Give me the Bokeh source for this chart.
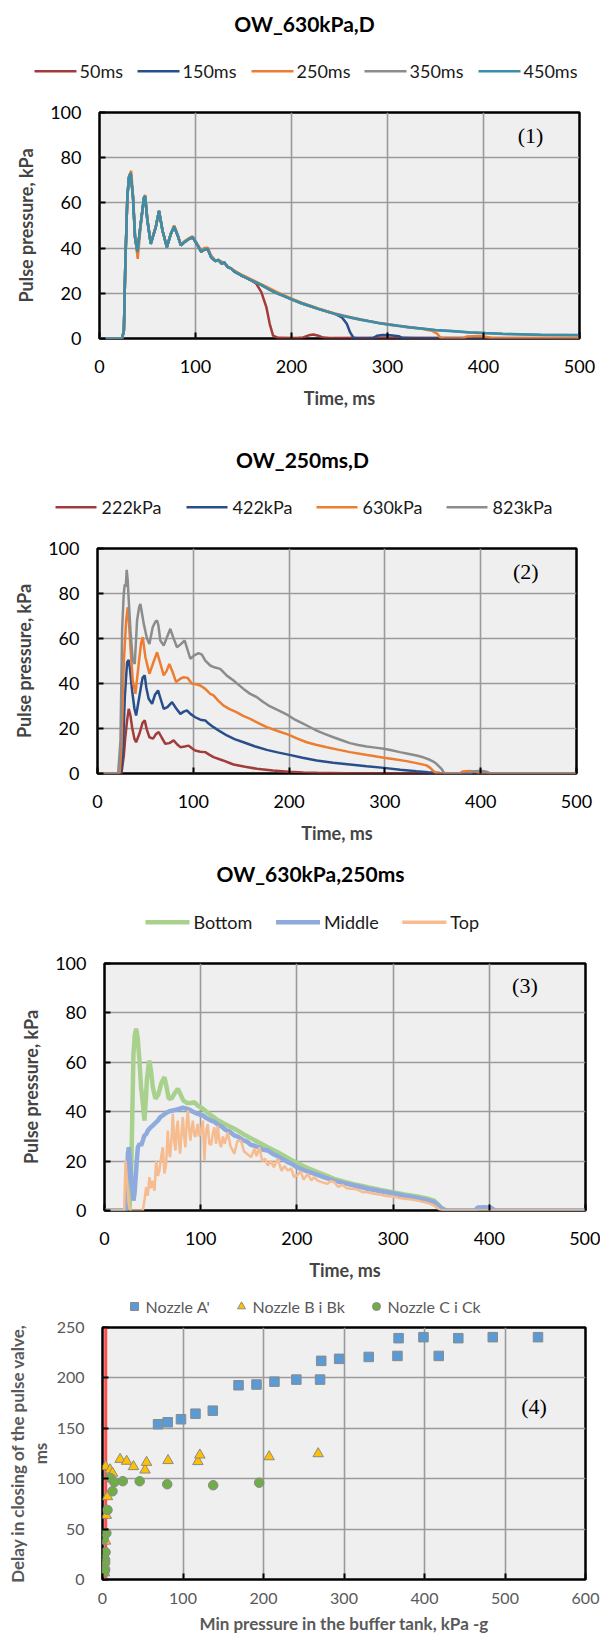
from bokeh.plotting import figure
from bokeh.models import Range1d, Label, Span, LinearAxis, FixedTicker
from bokeh.layouts import column
from bokeh.embed import file_html
from bokeh.resources import INLINE

# ---------------- data ----------------
time_ticks = [0, 100, 200, 300, 400, 500]
pressure_ticks = [0, 20, 40, 60, 80, 100]
buffer_ticks = [0, 100, 200, 300, 400, 500, 600]
delay_ticks = [0, 50, 100, 150, 200, 250]

# Panel 1 : OW_630kPa,D  (time ms, pulse pressure kPa)
p1_shared_start = [(0, 0), (23.5, 0), (25.4, 3.5), (26.9, 33.0), (29.0, 62.5), (30.7, 71.4), (32.5, 73.2),
                   (34.9, 62.5), (37.0, 44.8), (39.5, 38.2), (42.9, 50.7), (46.4, 62.5), (47.5, 63.0),
                   (49.9, 52.2), (53.4, 41.9), (58.6, 49.3), (62.0, 56.4), (65.6, 47.8), (70.2, 40.4),
                   (74.3, 46.3), (77.8, 49.6), (81.4, 45.6), (84.8, 41.2), (88.3, 42.6), (93.5, 44.1),
                   (97.0, 44.8), (102.3, 41.2), (105.8, 38.4), (109.2, 39.4), (112.8, 39.6), (116.2, 36.0),
                   (120.7, 34.2), (124.0, 34.8), (127.0, 33.2), (130.0, 33.6), (133.5, 31.6), (137.0, 31.0),
                   (140.6, 29.6), (145.0, 28.6), (149.0, 27.6), (153.0, 26.8), (158.1, 25.7)]
p1_450ms_tail = [(163, 24.8), (169, 23.6), (175.6, 22.0), (184, 20.2), (193, 18.6), (201.5, 17.1),
                 (210.5, 15.6), (219, 14.4), (228, 13.1), (236.5, 12.0), (245.3, 10.9), (254, 10.0),
                 (262.8, 9.2), (271.5, 8.4), (280.3, 7.7), (290.5, 6.9), (301.2, 6.2), (311.5, 5.6),
                 (322.2, 5.0), (336, 4.4), (350.1, 3.8), (367.5, 3.3), (385, 2.8), (402.5, 2.4),
                 (420, 2.1), (440, 1.9), (460, 1.7), (480, 1.6), (500, 1.5)]
p1_350ms_tail = [(163, 24.7), (169, 23.5), (175.6, 21.9), (184, 20.1), (193, 18.5), (201.5, 17.0),
                 (210.5, 15.5), (219, 14.3), (228, 13.0), (236.5, 11.9), (245.3, 10.8), (254, 9.9),
                 (262.8, 9.1), (271.5, 8.3), (280.3, 7.6), (290.5, 6.8), (301.2, 6.1), (311.5, 5.5),
                 (322.2, 4.9), (336, 4.3), (350.1, 3.7), (367.5, 3.2), (385, 2.7), (402.5, 2.3),
                 (420, 2.0), (440, 1.8), (460, 1.6), (480, 1.5), (500, 1.4)]
p1_150ms_tail = [(163, 24.8), (169, 23.6), (175.6, 22.0), (184, 20.2), (193, 18.6), (201.5, 17.1),
                 (210.5, 15.6), (219, 14.4), (228, 13.1), (236.5, 12.0), (245.3, 10.9), (252.4, 9.4),
                 (257.6, 6.5), (261, 2.8), (264.6, 0.3), (270, 0), (285, 0.2), (289, 1.2), (295, 1.5),
                 (303, 1.4), (311.7, 1.0), (316, 0.2), (330, 0.1), (500, 0.1)]
p1_50ms_tail = [(163.4, 24.2), (168.6, 20.5), (173.8, 13.9), (177.3, 6.5), (180.8, 1.3), (186, 0.3),
                (205, 0.2), (212, 0.5), (218, 1.4), (222.7, 1.8), (228, 1.2), (233, 0.4), (240, 0.2),
                (300, 0.3), (500, 0.2)]
p1_250ms = [(0, 0), (23.5, 0), (25.4, 3.5), (26.9, 34), (29, 63), (31, 72), (33, 74.2), (35, 63), (37.2, 45),
            (39.8, 35.2), (43, 50), (46.4, 62), (47.6, 63.5), (50, 52.5), (53.5, 42), (58.6, 49.5), (62, 56.5),
            (65.6, 48), (70.2, 40.6), (74.3, 46.5), (77.8, 50), (81.4, 46), (84.8, 41.5), (88.3, 43),
            (93.5, 44.5), (97, 45.2), (102.3, 41.5), (105.8, 39), (109.2, 40), (112.8, 40.2), (116.2, 36.8),
            (120.7, 34.5), (126.7, 34.2), (133.5, 32), (140.6, 30), (149, 28), (158.1, 26.2), (166.5, 24.4),
            (175.6, 22.5), (184, 20.7), (193, 19), (201.5, 17.4), (210.5, 15.9), (219, 14.6), (228, 13.3),
            (236.5, 12.2), (245.3, 11.1), (254, 10.2), (262.8, 9.3), (271.5, 8.5), (280.3, 7.8), (290.5, 7),
            (301.2, 6.3), (311.5, 5.7), (322.2, 5.1), (336, 4.3), (342, 3.8), (346.6, 3.4), (351.8, 2.1),
            (355.3, 0.3), (360, 0), (378, 0), (383, 0.9), (395, 1.1), (402, 0.8), (408, 0.2), (430, 0.1),
            (500, 0.1)]
p1_labels = ["50ms", "150ms", "250ms", "350ms", "450ms"]

# Panel 2 : OW_250ms,D
p2_222kPa = [(0, 0), (25, 0), (27.5, 8), (29, 16), (30.9, 23.6), (32.6, 28.7), (34.3, 26), (36.1, 20.6),
             (38.5, 15.5), (40.3, 13.9), (44, 18), (47, 22.5), (49.3, 23.6), (51.5, 19.5), (54.2, 16.1),
             (58, 15.5), (61, 17.5), (63.9, 18.4), (67, 16), (70.8, 13.2), (75, 13.5), (79.5, 14.7), (83, 13),
             (86.5, 11.7), (91, 12), (95.1, 12.4), (98.5, 11.2), (102, 10.2), (107.3, 9.7), (112.5, 9.5),
             (117, 8.3), (121.1, 7.3), (131, 5.8), (142, 4), (154, 3), (166.4, 2.1), (183, 1.3), (199.3, 0.8),
             (215, 0.5), (228.8, 0.3), (260, 0.1), (300, 0), (500, 0)]
p2_422kPa = [(0, 0), (24.5, 0), (26.5, 10), (28.5, 33.9), (30.9, 49.5), (32.6, 50.5), (34, 46), (36.1, 36.9),
             (38.5, 29), (40.3, 25.8), (44, 35), (47, 42.5), (49.3, 43.6), (51, 38), (53.4, 33.2), (57, 31),
             (60, 35), (63.2, 36.9), (66, 33), (69.1, 28.7), (73, 29.5), (77.8, 31.7), (82, 29), (86.5, 26.5),
             (90, 27.5), (93.4, 28), (97, 26.5), (102, 25), (107.3, 23.9), (112.5, 23.6), (116, 22.2),
             (121.1, 20.6), (128, 18.7), (135.1, 16.9), (143, 15.3), (152.4, 13.9), (164, 12.1), (176.7, 10.5),
             (188, 9.4), (199.3, 8.4), (214, 7), (228.8, 5.8), (246, 4.8), (263.5, 4), (281, 3.2), (299, 2.5),
             (316, 1.7), (333, 1), (345, 0.6), (357.3, 0.2), (365, 0), (500, 0)]
p2_630kPa = [(0, 0), (23, 0), (25, 12), (27.4, 48.7), (29.9, 68), (31.6, 73.9), (33, 66), (34.4, 56.1),
             (36.8, 41.3), (39.6, 35.4), (43, 48.7), (45.5, 58), (47.2, 60.6), (50, 51.7), (54.2, 44.3), (58, 49),
             (62.2, 53.9), (65.5, 49), (69.1, 43.6), (72, 45.5), (75, 48.7), (78.5, 45), (82, 40.6), (86, 42),
             (89.9, 42.8), (94, 42.5), (98.6, 39.9), (102, 39.8), (107.3, 39.1), (112.5, 37.6), (117.7, 35.4),
             (121.1, 34.7), (126, 32.4), (131.6, 30.2), (138, 28.6), (145.5, 27.2), (152, 25.6), (159.4, 24.3),
             (168, 22.4), (176.7, 20.6), (188, 18.9), (199.3, 17.3), (208, 15.6), (218.4, 13.9), (228, 12.8),
             (239.3, 11.7), (251, 10.6), (263.5, 9.5), (280, 8.3), (299, 7), (310, 6.3), (322.6, 5.5),
             (333, 4.6), (343.4, 3.6), (347, 2.6), (350.3, 1.3), (353.8, 0), (378, 0), (381, 0.9), (388, 1.1),
             (395, 0.9), (399, 0), (500, 0)]
p2_823kPa = [(0, 0), (21.5, 0), (24, 14.7), (25.7, 63.6), (27.4, 80), (28.5, 84), (29.5, 83), (30.5, 90.5),
             (31.5, 86), (32.6, 77), (34.4, 63.6), (36.8, 50.2), (38.9, 48.7), (41.3, 68), (43.5, 74),
             (44.8, 75.4), (46.5, 71), (48.3, 66.5), (51.7, 59.9), (54.2, 57.6), (57.6, 65), (60.5, 67.5),
             (62.2, 68), (63.5, 66), (65.6, 59.1), (69.1, 56.9), (72, 60), (76, 64.3), (79, 60.5), (83, 56.1),
             (87, 57.5), (91, 59.1), (94, 55), (96.9, 51), (101, 52.5), (105.5, 53.5), (109, 52.8),
             (112.5, 50.2), (117.7, 48), (122, 47.2), (128.1, 46.5), (135, 43.5), (142, 41.3), (147, 39.5),
             (152.4, 37.6), (159, 35.5), (166.4, 33.9), (173, 31.8), (180.2, 29.8), (190, 27.8), (199.3, 25.8),
             (205, 24.2), (211.5, 22.8), (220, 21), (228.8, 19.1), (237, 17.6), (246.2, 16.1), (255, 14.8),
             (263.5, 13.5), (272, 12.7), (280.9, 12), (290, 11.5), (299, 11), (307, 10.3), (315.6, 9.5),
             (324, 8.8), (333, 8), (340, 7.2), (346.9, 6.1), (350.5, 5.3), (353.8, 4.3), (356.5, 3.2),
             (359, 2.1), (361, 0.8), (362.5, 0), (388, 0), (392, 0.9), (400, 1.2), (406, 0.8), (410, 0),
             (500, 0)]
p2_labels = ["222kPa", "422kPa", "630kPa", "823kPa"]

# Panel 3 : OW_630kPa,250ms
p3_bottom = [(0, 0), (26, 0), (28, 20), (30.1, 63.4), (31.5, 71), (32.9, 73.6), (34.5, 70), (36.3, 60.7),
             (38, 50), (39.9, 43.2), (41.5, 36.4), (43, 45), (44, 52.6), (45.5, 58), (46.7, 60.7), (48.5, 56),
             (50.2, 49.9), (53, 45.2), (56, 47), (59, 51.5), (62.3, 54), (64.5, 50), (66.8, 45.2), (70, 45.5),
             (73, 47.5), (76.2, 49.3), (79, 47), (82, 44.5), (86, 43.5), (90, 43.5), (93.5, 43.8), (97, 42.5),
             (102.2, 41.2), (106, 40), (110.8, 38.5), (118, 36.5), (126, 34.8), (135, 33.1), (144, 31),
             (152, 29.3), (161, 27.4), (169.7, 25.6), (180, 23.6), (190, 21.4), (200.1, 19.2), (210, 17.4),
             (220, 15.8), (230, 14.2), (238.8, 12.8), (250, 11.6), (262, 10.4), (273.5, 9.4), (286, 8.4),
             (299.5, 7.4), (312, 6.5), (325.4, 5.7), (335, 4.9), (342.7, 4), (346, 2.8), (349.6, 1.3),
             (354.8, 0), (500, 0)]
p3_middle = [(0, 0), (22.5, 0), (23.5, 12), (24.3, 23), (25.3, 25.6), (26.5, 20), (27.7, 13.5), (29, 8),
             (30.1, 4), (31.2, 7), (32.2, 12.1), (33.5, 20), (34.7, 25.6), (36.5, 27), (38.1, 26.3), (40, 28.5),
             (41.5, 30.4), (43.5, 31), (45.1, 32.4), (47.5, 33.5), (50.3, 34.4), (53, 35.5), (55.5, 36.4),
             (58, 37.8), (60.6, 38.5), (64, 39.5), (67.5, 40.2), (71, 40.5), (74.5, 40.8), (78, 41.2),
             (81.4, 41.6), (84.5, 41.3), (88.3, 40.8), (92, 40), (95.2, 39.4), (98.5, 38.9), (102.2, 38.5),
             (106, 37.4), (110.8, 36.4), (114, 36.0), (118, 34.7), (122, 33.9), (126, 32.6), (130, 32.0),
             (135, 30.4), (139, 29.8), (144, 28.5), (148, 27.9), (152, 26.6), (156, 26.2), (161, 25.5),
             (165, 24.6), (169.7, 24.3), (175, 22.9), (180, 22), (185, 20.9), (190, 19.7), (195, 18.8),
             (200.1, 17.5), (210, 15.9), (220, 14.6), (230, 13.2), (238.8, 12.1), (250, 11), (262, 9.9),
             (273.5, 8.8), (286, 7.9), (299.5, 7), (312, 6), (325.4, 5.1), (335, 4.3), (342.7, 3.4), (347, 2),
             (351.7, 0.4), (356, 0), (385, 0), (388, 1.2), (395, 1.3), (402, 1.1), (406, 0), (500, 0)]
p3_top = [(0, 0), (20.5, 0), (21.8, 20.2), (23.5, 12), (25, 3), (27, 0), (39.9, 0), (41.5, 4), (43.3, 9.4),
          (45, 6), (46.7, 13.5), (48.5, 9), (50.3, 12), (52, 8), (53.7, 20.2), (55.5, 14), (57.1, 16.2),
          (59, 22), (60.6, 25.6), (62.3, 15), (64, 18.9), (65.8, 32.4), (67, 24), (68.2, 21.6), (69.8, 30),
          (71, 39.1), (72.5, 28), (73.8, 24.3), (75, 33), (76.2, 36.4), (77.5, 27), (78.6, 23), (80, 31),
          (81.4, 37.8), (82.8, 30), (84.1, 25.6), (85.4, 35), (86.6, 40.5), (88, 33), (89.3, 28.3), (90.5, 33),
          (91.8, 36.4), (93.2, 31), (94.5, 29.7), (95.8, 33), (97, 35.1), (98.2, 30), (99.4, 31), (100.4, 32.4),
          (102.2, 36.4), (103.9, 20.2), (104.9, 28.3), (106, 33), (107.3, 35), (109, 27), (110.8, 26.5),
          (112.5, 31), (114.2, 33.7), (116, 27), (117.7, 34.4), (119.5, 28), (121.1, 25.6), (123, 30),
          (125, 27), (128.1, 31.7), (131, 26), (135, 23), (138, 28), (141.9, 28.3), (145, 24), (148, 23),
          (152.3, 21.6), (156, 25), (158, 22), (161, 25.6), (164, 20), (167, 21), (169.7, 18.2), (173, 20),
          (176, 17.5), (180.1, 20.9), (184, 16), (187, 18), (190.5, 16.2), (194, 17), (197, 13.5),
          (200.1, 14.2), (204, 15.8), (207, 12.5), (211.1, 14.8), (215, 12.2), (218, 13.5), (221.5, 12.1),
          (226, 11.5), (231.8, 10.8), (235, 12), (238.8, 11.5), (243, 9.5), (247, 10.4), (252, 9), (256, 8.8),
          (262, 8.6), (268, 7.5), (273.5, 7.4), (280, 6.8), (286, 6.5), (293, 5.9), (299.5, 5.7), (306, 5.1),
          (312, 4.8), (318, 4.5), (325.4, 4), (332, 3.4), (338, 2.8), (342.7, 2), (346, 1), (349.6, 0),
          (500, 0)]
p3_labels = ["Bottom", "Middle", "Top"]

# Panel 4 : delay in closing vs min buffer-tank pressure
nozzle_a_x = [69, 81, 97.5, 115.5, 137, 169, 191.3, 213.6, 240.8, 270.3, 271.7, 294, 330.7, 366.4, 367.8,
              398.7, 417.7, 442, 484.8, 541]
nozzle_a_y = [154, 156, 159, 164.5, 167.5, 192.7, 193.4, 196.3, 198.3, 198.3, 216.9, 218.9, 220.8, 221.8,
              239.4, 240.4, 221.8, 239.4, 240.4, 240.4]
nozzle_b_x = [3.8, 9.5, 12.4, 21.9, 30.0, 38.5, 52.8, 54.7, 81.4, 118.5, 120.9, 207.0, 267.9, 6.2, 4.8, 3.8,
              2.4, 1.4]
nozzle_b_y = [112.0, 108.8, 105.5, 119.2, 117.3, 112.0, 108.6, 116.2, 118.0, 117.0, 123.5, 121.8, 124.8,
              82.2, 63.7, 38.1, 6.6, 13.2]
nozzle_c_x = [9.5, 14.7, 25.2, 46.2, 80.4, 137.5, 194.6, 12.4, 6.2, 4.8, 1.4, 3.8, 3.3, 3.3, 3.3, 2.4]
nozzle_c_y = [100.8, 96.5, 97.5, 97.5, 94.5, 93.5, 96.0, 87.5, 69.0, 46.0, 40.0, 27.0, 19.5, 16.5, 10.0, 7.5]
red_marker_x = [4]
p4_labels = ["Nozzle A'", "Nozzle B i Bk", "Nozzle C i Ck"]

# ---------------- styling helpers ----------------
FONT = "Lato"
PANEL_BG = "#efefef"
GRID = "#9a9a9a"
PAGE_W = 600


def unzip(pairs):
    return [a for a, b in pairs], [b for a, b in pairs]


def header_fig(height):
    # a bare strip (frame == whole canvas, 1 unit == 1 px) holding the chart title and its key
    h = figure(width=PAGE_W, height=height, x_range=Range1d(0, PAGE_W), y_range=Range1d(height, 0),
               output_backend="svg", toolbar_location=None, title=None, frame_align=False,
               x_axis_type=None, y_axis_type=None, min_border=0,
               min_border_left=0, min_border_right=0, min_border_top=0, min_border_bottom=0)
    h.outline_line_color = None
    h.background_fill_color = "white"
    h.border_fill_color = "white"
    return h


def header_title(h, text, x, y):
    h.add_layout(Label(x=x, y=y, text=text, text_align="center", text_baseline="middle",
                       text_font=FONT, text_font_size="21px", text_font_style="bold", text_color="black"))


def header_key_text(h, text, x, y, size="18px", color="#1a1a1a"):
    h.add_layout(Label(x=x, y=y, text=text, text_align="left", text_baseline="middle",
                       text_font=FONT, text_font_size=size, text_color=color))


def line_key(h, labels, colors, widths, starts, y, glyph_w, standoff):
    h.segment(x0=starts, y0=[y] * len(starts), x1=[s + glyph_w for s in starts], y1=[y] * len(starts),
              line_color=colors, line_width=widths)
    for lab, s in zip(labels, starts):
        header_key_text(h, lab, s + glyph_w + standoff, y)


def base_fig(height, left, right, top, bottom, xr, yr, xt, yt, tick_color="black", tick_size="18px"):
    p = figure(width=PAGE_W, height=height, x_range=Range1d(*xr), y_range=Range1d(*yr),
               output_backend="svg", toolbar_location=None, title=None, frame_align=False,
               min_border_left=left, min_border_right=PAGE_W - right,
               min_border_top=top, min_border_bottom=bottom)
    p.background_fill_color = PANEL_BG
    p.border_fill_color = "white"
    p.outline_line_color = "black"
    p.outline_line_width = 2.5
    p.xaxis.ticker = xt
    p.yaxis.ticker = yt
    for ax in (p.xaxis[0], p.yaxis[0]):
        ax.axis_line_color = None
        ax.major_tick_in = 6
        ax.major_tick_out = 0
        ax.major_tick_line_color = "black"
        ax.major_tick_line_width = 2
        ax.minor_tick_line_color = None
        ax.major_label_text_font = FONT
        ax.major_label_text_font_size = tick_size
        ax.major_label_text_color = tick_color
        ax.axis_label_text_font = FONT
        ax.axis_label_text_font_style = "bold"
    p.grid.grid_line_color = GRID
    p.grid.grid_line_width = 1.6
    return p


def add_tag(p, text, x, y):
    p.add_layout(Label(x=x, y=y, text=text, text_align="center", text_baseline="middle",
                       text_font="Liberation Serif", text_font_size="22px", text_color="black"))


def style_time_axes(p):
    p.xaxis.axis_label = "Time, ms"
    p.yaxis.axis_label = "Pulse pressure, kPa"
    for ax in (p.xaxis[0], p.yaxis[0]):
        ax.axis_label_text_font_size = "18px"
    p.xaxis.major_label_standoff = 21
    p.yaxis.major_label_standoff = 18
    p.xaxis.axis_label_standoff = 11
    p.yaxis.axis_label_standoff = 10


# ---------------- panel 1 ----------------
c1 = ["#a33b3b", "#284f8c", "#ed7d31", "#8c8c8c", "#3b8ea8"]
h1 = header_fig(92)
header_title(h1, "OW_630kPa,D", 304, 23)
line_key(h1, p1_labels, c1, [2.5] * 5, [34, 137, 251, 364, 478], 70.7, 42, 3)

p1 = base_fig(325, 99, 579, 20, 79, (0, 500), (0, 100), time_ticks, pressure_ticks)
style_time_axes(p1)
s50 = unzip(p1_shared_start + p1_50ms_tail)
s150 = unzip(p1_shared_start + p1_150ms_tail)
s250 = unzip(p1_250ms)
s350 = unzip(p1_shared_start + p1_350ms_tail)
s450 = unzip(p1_shared_start + p1_450ms_tail)
for (xs, ys), col in zip([s50, s150, s250, s350, s450], c1):
    p1.line(xs, ys, line_color=col, line_width=2.5)
add_tag(p1, "(1)", 449, 90)

# ---------------- panel 2 ----------------
c2 = ["#a33b3b", "#284f8c", "#ed7d31", "#8c8c8c"]
h2 = header_fig(111)
header_title(h2, "OW_250ms,D", 302, 42)
line_key(h2, p2_labels, c2, [2.5] * 4, [55, 186, 316, 446], 89.7, 41, 5)

p2 = base_fig(324, 97, 576, 20, 79, (0, 500), (0, 100), time_ticks, pressure_ticks)
style_time_axes(p2)
for series, col in zip([p2_222kPa, p2_422kPa, p2_630kPa, p2_823kPa], c2):
    xs, ys = unzip(series)
    p2.line(xs, ys, line_color=col, line_width=2.5)
add_tag(p2, "(2)", 447, 90)

# ---------------- panel 3 ----------------
c3 = ["#a9d18e", "#8faadc", "#f6bb8e"]
w3 = [4.5, 4.5, 2.5]
h3 = header_fig(91)
header_title(h3, "OW_630kPa,250ms", 310, 21)
line_key(h3, p3_labels, c3, [4.5, 4.5, 3.5], [145, 275.5, 401.8], 69.7, 44, 4)

p3 = base_fig(346, 104, 585, 20, 79, (0, 500), (0, 100), time_ticks, pressure_ticks)
style_time_axes(p3)
for series, col, w in zip([p3_bottom, p3_middle, p3_top], c3, w3):
    xs, ys = unzip(series)
    p3.line(xs, ys, line_color=col, line_width=w)
add_tag(p3, "(3)", 437, 91)

# ---------------- panel 4 ----------------
marker_styles = [("square", "#5b9bd5", 9.5), ("triangle", "#ffc000", 10.5), ("circle", "#70ad47", 9.5)]
h4 = header_fig(28)
key4_centres = [134, 241, 376]
for lab, (mk, col, sz), cx in zip(p4_labels, marker_styles, key4_centres):
    h4.scatter(x=[cx], y=[17], marker=mk, size=8, fill_color=col, line_color="#8a8a8a", line_width=1)
    header_key_text(h4, lab, cx + 11, 17, size="16px", color="#595959")

p4 = base_fig(321, 102, 585, 10, 59, (0, 600), (0, 250), buffer_ticks, delay_ticks,
              tick_color="#595959", tick_size="16px")
p4.xaxis.axis_label = "Min pressure in the buffer tank, kPa -g"
p4.yaxis.axis_label = "ms"
p4.xaxis.axis_label_text_font_size = "17px"
p4.yaxis.axis_label_text_font_size = "17px"
for ax in (p4.xaxis[0], p4.yaxis[0]):
    ax.axis_label_text_color = "#595959"
p4.xaxis.major_label_standoff = 13
p4.yaxis.major_label_standoff = 18
p4.xaxis.axis_label_standoff = 6
p4.yaxis.axis_label_standoff = 3
# first line of the two-line y title sits on an outer, tick-less axis
p4_outer_axis = LinearAxis(axis_label="Delay in closing of the pulse valve,", ticker=FixedTicker(ticks=[]),
                           axis_line_color=None, major_tick_line_color=None, minor_tick_line_color=None,
                           major_tick_in=0, major_tick_out=0, minor_tick_in=0, minor_tick_out=0,
                           major_label_standoff=0, axis_label_standoff=-1,
                           axis_label_text_font=FONT, axis_label_text_font_size="17px",
                           axis_label_text_font_style="bold", axis_label_text_color="#595959")
p4.add_layout(p4_outer_axis, "left")
p4.add_layout(Span(location=red_marker_x[0], dimension="height", line_color="#ff4d4d",
                   line_width=3, level="underlay"))
for xs, ys, (mk, col, sz) in zip([nozzle_a_x, nozzle_b_x, nozzle_c_x], [nozzle_a_y, nozzle_b_y, nozzle_c_y],
                                 marker_styles):
    p4.scatter(xs, ys, marker=mk, size=sz, fill_color=col, line_color="#8a8a8a", line_width=1)
add_tag(p4, "(4)", 536, 172)

layout = column(h1, p1, h2, p2, h3, p3, h4, p4, spacing=0)
open("out.html", "w").write(file_html(layout, INLINE))
